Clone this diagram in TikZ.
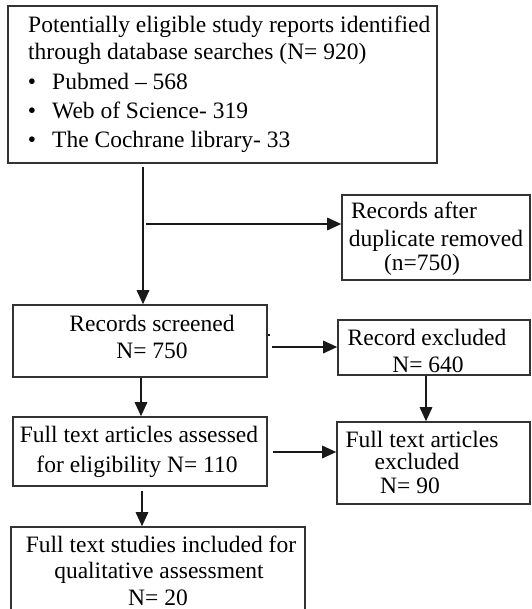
\documentclass[tikz,border=0pt]{standalone}
\usepackage{fontspec}
\setmainfont{Liberation Serif}
\usetikzlibrary{arrows.meta}

\newcommand\flowfont{\fontsize{23.5}{28}\selectfont}

\tikzset{
  box/.style={draw=black!80, line width=1.6pt, fill=white, inner sep=0pt},
  ln/.style={anchor=base, inner sep=0pt, font=\flowfont, text=black},
  lnl/.style={anchor=base west, inner sep=0pt, font=\flowfont, text=black},
  arr/.style={draw=black!90, line width=1.6pt, -{Triangle[length=14pt,width=12.5pt]}},
  plain/.style={draw=black!90, line width=1.5pt}
}

\begin{document}
\begin{tikzpicture}[x=1pt, y=-1pt]
  \useasboundingbox (0,0) rectangle (531,609);
  \fill[white] (0,0) rectangle (531,609);
  \clip (0,0) rectangle (531,609);

  % boxes (centre, size)
  \node[box, minimum width=429pt, minimum height=157pt] (src) at (222.5,84.5) {};
  \node[box, minimum width=188pt, minimum height=85pt]  (dup) at (436,237.5) {};
  \node[box, minimum width=254pt, minimum height=72pt]  (scr) at (140,341) {};
  \node[box, minimum width=192pt, minimum height=55pt]  (exc) at (434,347.5) {};
  \node[box, minimum width=254pt, minimum height=69pt]  (ass) at (140,451.5) {};
  \node[box, minimum width=193pt, minimum height=82pt]  (fte) at (433.5,463) {};
  \node[box, minimum width=294pt, minimum height=110pt] (fin) at (158,582) {};

  % search box text
  \node[lnl] (s1) at (28,33)  {Potentially eligible study reports identified};
  \node[lnl] (s2) at (28,60)  {through database searches (N= 920)};
  \node[ln]  (b1) at (32,90)  {•};
  \node[lnl] (s3) at (52,90)  {Pubmed – 568};
  \node[ln]  (b2) at (32,119) {•};
  \node[lnl] (s4) at (52,119) {Web of Science- 319};
  \node[ln]  (b3) at (32,148) {•};
  \node[lnl] (s5) at (52,148) {The Cochrane library- 33};

  % duplicates removed
  \node[ln] (d1) at (414,219) {Records after};
  \node[ln] (d2) at (436,247) {duplicate removed};
  \node[ln] (d3) at (422,270) {(n=750)};

  % screened
  \node[ln] (r1) at (152,331) {Records screened};
  \node[ln] (r2) at (152,358) {N= 750};

  % excluded records
  \node[ln] (e1) at (427,345) {Record excluded};
  \node[ln] (e2) at (428,372) {N= 640};

  % full text assessed
  \node[ln] (a1) at (139,442) {Full text articles assessed};
  \node[ln] (a2) at (137,472) {for eligibility N= 110};

  % full text excluded
  \node[ln] (f1) at (422,447) {Full text articles};
  \node[ln] (f2) at (417,469) {excluded};
  \node[ln] (f3) at (410,493) {N= 90};

  % included studies
  \node[ln] (i1) at (161,552) {Full text studies included for};
  \node[ln] (i2) at (159,578) {qualitative assessment};
  \node[ln] (i3) at (158,605) {N= 20};

  % connector positions
  \coordinate (x1) at (143,0);
  \coordinate (j1) at (146,224);
  \coordinate (stub) at (270,335);
  \coordinate (y2) at (0,347);
  \coordinate (x2) at (141,0);
  \coordinate (x3) at (426,0);
  \coordinate (y3) at (0,452);
  \coordinate (x4) at (142,0);

  % connectors
  \draw[arr, shorten <=3pt] (src.south -| x1) -- (scr.north -| x1);
  \draw[arr] (j1) -- (dup.west |- j1);
  \draw[plain] (scr.east |- stub) -- (stub);
  \draw[arr, shorten <=4pt] (scr.east |- y2) -- (exc.west |- y2);
  \draw[arr] (scr.south -| x2) -- (ass.north -| x2);
  \draw[arr] (exc.south -| x3) -- (fte.north -| x3);
  \draw[arr, shorten <=5pt] (ass.east |- y3) -- (fte.west |- y3);
  \draw[arr, shorten <=4pt] (ass.south -| x4) -- (fin.north -| x4);
\end{tikzpicture}
\end{document}
